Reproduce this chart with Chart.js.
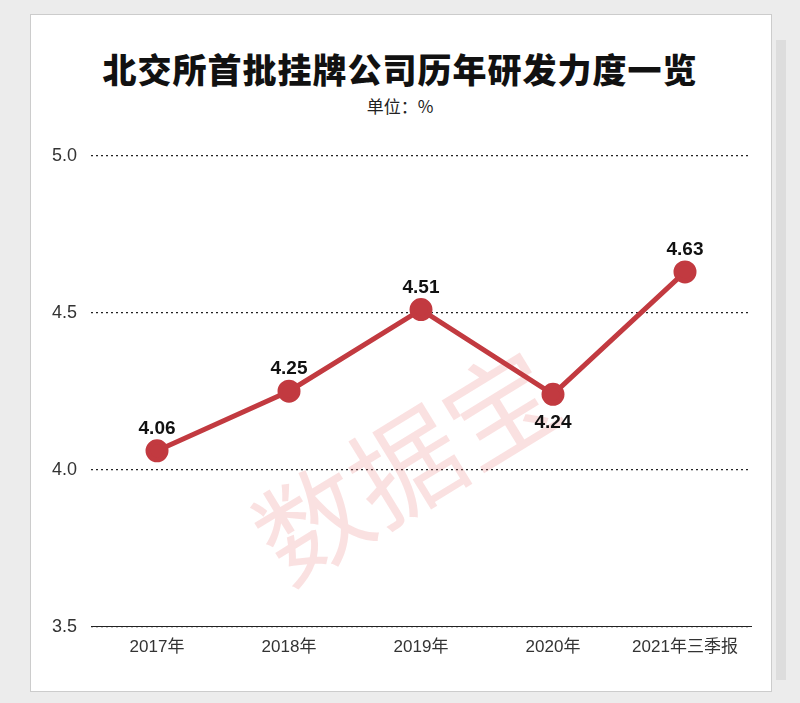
<!DOCTYPE html>
<html><head><meta charset="utf-8">
<script src="https://cdn.jsdelivr.net/npm/chart.js@4"></script>
<style>
body{margin:0;background:#ececec;width:800px;height:703px;overflow:hidden;font-family:"Noto Sans CJK SC",sans-serif}
#panel{position:absolute;left:30px;top:14px;width:740px;height:676px;background:#fff;border:1px solid #ccc}
#bar{position:absolute;left:776px;top:40px;width:10px;height:640px;background:#ddd}
h1{position:absolute;left:0;top:44px;width:800px;text-align:center;margin:0;font-size:34px;line-height:50px;font-weight:900;color:#111;letter-spacing:1px}
#unit{position:absolute;left:0;top:93px;width:800px;text-align:center;font-size:17px;color:#222}
#wrap{position:absolute;left:38px;top:131px;width:727px;height:530px}
</style></head><body>
<div id="panel"></div><div id="bar"></div>
<h1>北交所首批挂牌公司历年研发力度一览</h1>
<div id="unit">单位：%</div>
<div id="wrap"><canvas id="c"></canvas></div>
<script>
const categories=["2017年","2018年","2019年","2020年","2021年三季报"];
const values=[4.06,4.25,4.51,4.24,4.63];
const labelPos=["above","above","above","below","above"];
const red="#c23a40";
const dl={id:"dl",afterDatasetsDraw(ch){const ctx=ch.ctx;const m=ch.getDatasetMeta(0);ctx.save();ctx.font="bold 19px Arial";ctx.fillStyle="#111";ctx.textAlign="center";
m.data.forEach((p,i)=>{const y=labelPos[i]==="above"?p.y-17:p.y+34;ctx.fillText(values[i].toFixed(2),p.x,y);});ctx.restore();}};
const wm={id:"wm",beforeDatasetsDraw(ch){const ctx=ch.ctx;ctx.save();ctx.translate(390,370);ctx.rotate(-0.55);ctx.font="110px 'Noto Sans CJK SC'";ctx.fillStyle="rgba(230,120,120,0.22)";ctx.textAlign="center";ctx.fillText("数据宝",0,0);ctx.restore();}};
new Chart(document.getElementById("c"),{type:"line",
data:{labels:categories,datasets:[{data:values,borderColor:red,backgroundColor:red,borderWidth:5,pointRadius:9,pointHoverRadius:9,tension:0}]},
options:{responsive:true,maintainAspectRatio:false,animation:false,layout:{padding:{right:8,top:10}},
plugins:{legend:{display:false},tooltip:{enabled:false}},
scales:{y:{min:3.5,max:5,ticks:{stepSize:0.5,callback:v=>v.toFixed(1),font:{size:18,family:"Arial"},color:"#333",padding:14},
grid:{color:"#222",lineWidth:1.2,tickLength:0,drawTicks:false},border:{display:false,dash:[2,3]}},
x:{offset:true,grid:{display:false},border:{color:"#222",width:1},ticks:{font:{size:17,family:"Arial, 'Noto Sans CJK SC'"},color:"#333"}}}},
plugins:[wm,dl]});
</script></body></html>
